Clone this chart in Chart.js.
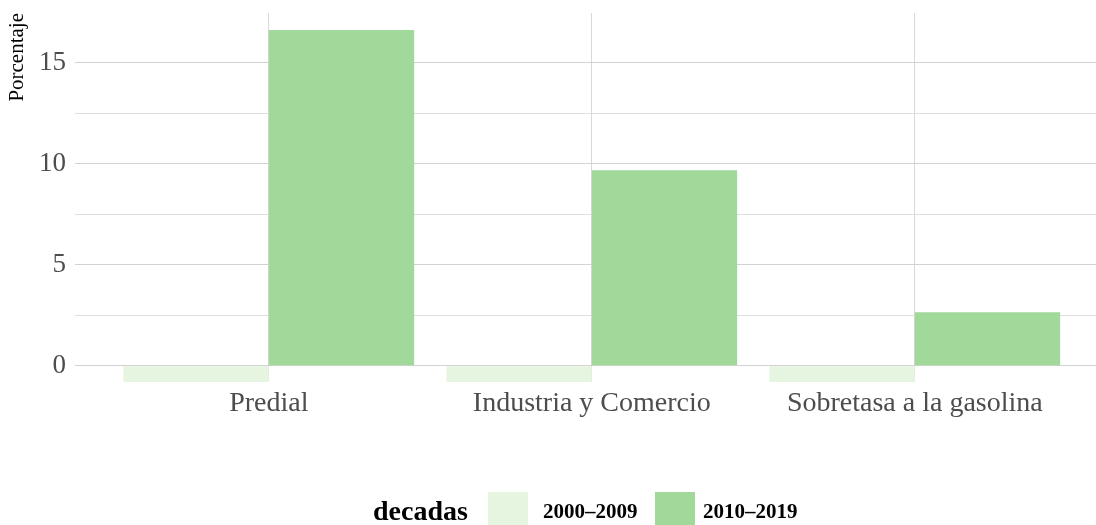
<!DOCTYPE html>
<html>
<head>
<meta charset="utf-8">
<script src="https://cdn.jsdelivr.net/npm/chart.js@4.4.1/dist/chart.umd.min.js"></script>
<style>
    html, body { margin: 0; padding: 0; background: #fff; overflow: hidden; }
</style>
</head>
<body>
<canvas id="chart" width="1096" height="525"></canvas>
<script>
// ── Data ──────────────────────────────────────────────────────────────────────
const categories = ['Predial', 'Industria y Comercio', 'Sobretasa a la gasolina'];
const decades    = ['2000–2009', '2010–2019'];
const values2000 = [-0.81, -0.81, -0.81];
const values2010 = [16.61, 9.67, 2.64];
const yTicks     = [0, 2.5, 5, 7.5, 10, 12.5, 15];
const COLORS     = ['#e5f5e0', '#a1d99b'];

const FONT = '"Liberation Serif", "Times New Roman", serif';

function toPoints(values) {
    return values.map((v, i) => ({ x: i + 1, y: v }));
}

// ── Legend drawn ggplot-style: title on the left, keys inline ────────────────
const inlineLegend = {
    id: 'inlineLegend',
    afterDraw(chart) {
        const ctx = chart.ctx;
        ctx.save();
        ctx.textBaseline = 'alphabetic';
        ctx.fillStyle = '#000';
        ctx.font = `bold 28px ${FONT}`;
        ctx.fillText('decadas', 373, 520);

        const boxX   = [488, 655];
        const labelX = [543, 703];
        decades.forEach((d, i) => {
            ctx.fillStyle = COLORS[i];
            ctx.fillRect(boxX[i], 492, 40, 40);
            ctx.fillStyle = '#000';
            ctx.font = `bold 21px ${FONT}`;
            ctx.fillText(d, labelX[i], 518);
        });
        ctx.restore();
    }
};

new Chart(document.getElementById('chart'), {
    type: 'bar',
    data: {
        datasets: [
            {
                label: decades[0],
                data: toPoints(values2000),
                backgroundColor: COLORS[0],
                borderWidth: 0,
            },
            {
                label: decades[1],
                data: toPoints(values2010),
                backgroundColor: COLORS[1],
                borderWidth: 0,
            },
        ],
    },
    options: {
        responsive: false,
        animation: false,
        devicePixelRatio: 1,
        layout: { padding: { top: 13, right: 0, left: 0, bottom: 0 } },
        datasets: { bar: { categoryPercentage: 0.9, barPercentage: 1.0 } },
        plugins: {
            legend: { display: false },
            tooltip: { enabled: false },
        },
        scales: {
            x: {
                type: 'linear',
                min: 0.4,
                max: 3.561,
                offset: false,
                afterBuildTicks: (scale) => { scale.ticks = categories.map((c, i) => ({ value: i + 1 })); },
                afterFit: (scale) => {
                    scale.height = 143;
                    scale.paddingLeft = 0;
                    scale.paddingRight = 0;
                },
                ticks: {
                    autoSkip: false,
                    maxRotation: 0,
                    padding: 5,
                    color: '#4d4d4d',
                    font: { family: FONT, size: 28 },
                    callback: (v) => categories[v - 1] ?? '',
                },
                grid: { color: '#d9d9d9', lineWidth: 1, drawTicks: false, offset: false },
                border: { display: false },
            },
            y: {
                min: -0.81,
                max: 17.45,
                afterBuildTicks: (scale) => { scale.ticks = yTicks.map(v => ({ value: v })); },
                afterFit: (scale) => {
                    scale.width = 75;
                    scale.paddingTop = 0;
                    scale.paddingBottom = 0;
                },
                ticks: {
                    autoSkip: false,
                    padding: 9,
                    color: '#4d4d4d',
                    font: { family: FONT, size: 27 },
                    callback: (v) => (v % 5 === 0 ? String(v) : ''),
                },
                grid: {
                    color: (ctx) => (ctx.tick && ctx.tick.value % 5 === 0 ? '#d2d2d2' : '#dedede'),
                    lineWidth: 1,
                    drawTicks: false,
                },
                border: { display: false },
                title: {
                    display: true,
                    text: 'Porcentaje',
                    align: 'end',
                    color: '#000',
                    font: { family: FONT, size: 21 },
                    padding: { top: 5, bottom: 0 },
                },
            },
        },
    },
    plugins: [inlineLegend],
});
</script>
</body>
</html>
